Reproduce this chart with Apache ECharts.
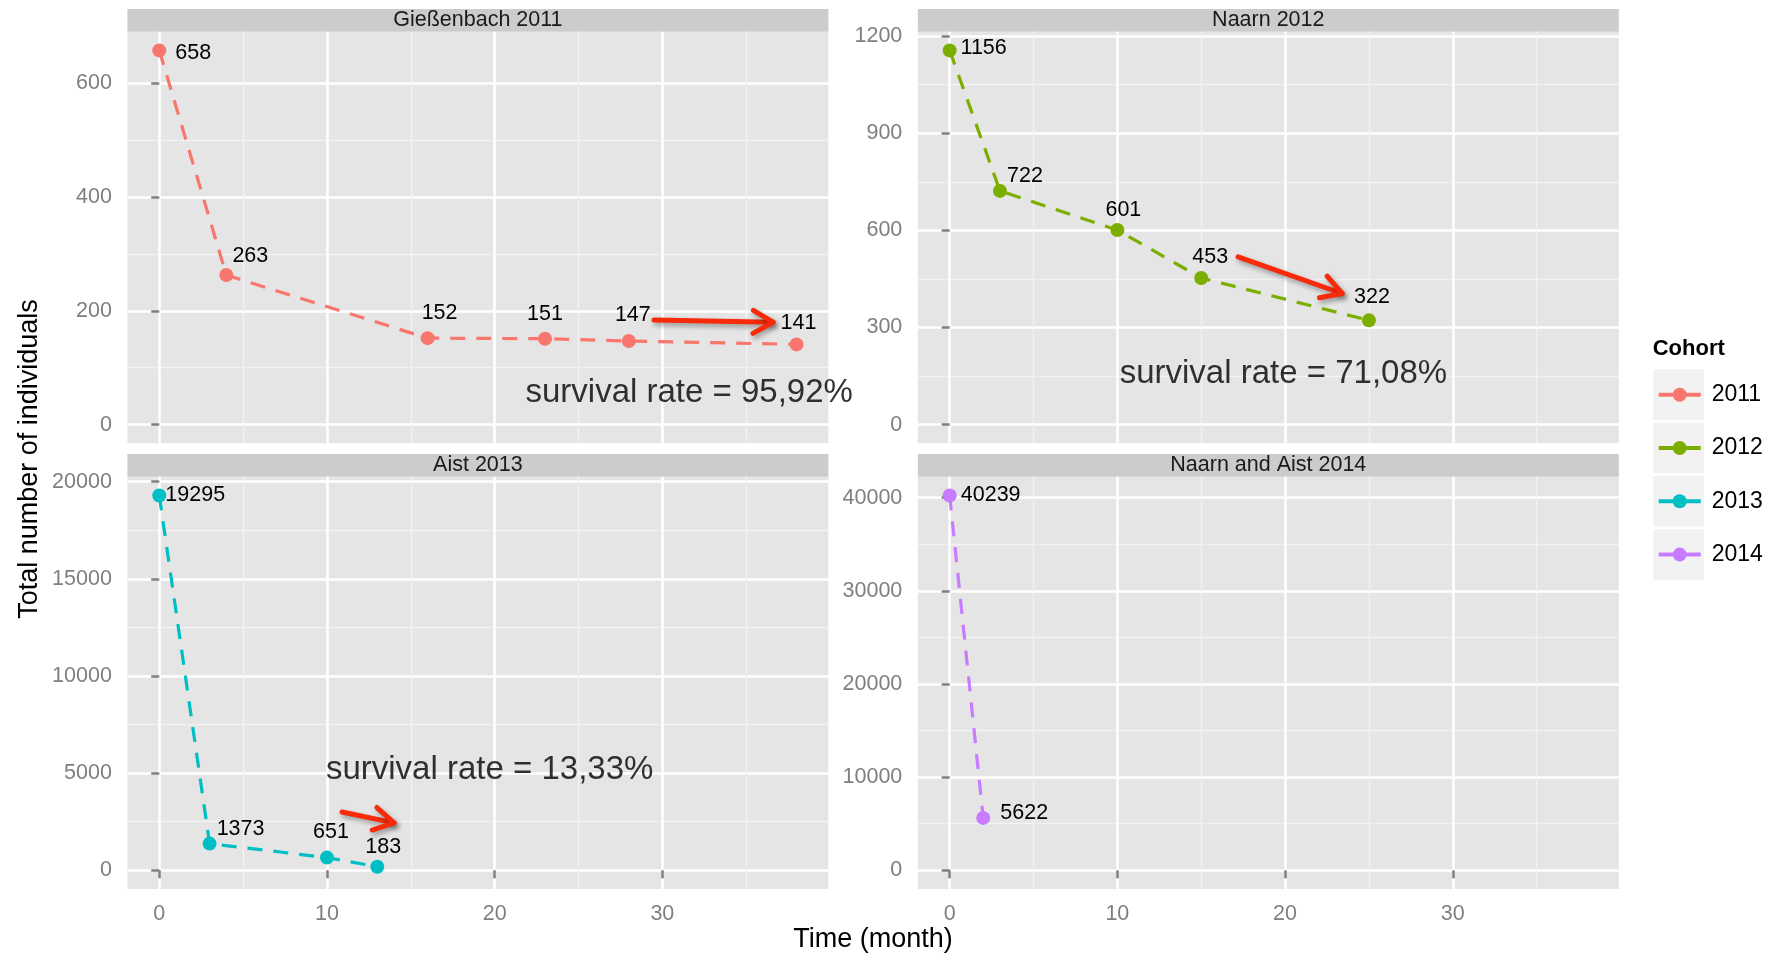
<!DOCTYPE html>
<html>
<head>
<meta charset="utf-8">
<title>Survival of cohorts</title>
<script src="https://cdn.jsdelivr.net/npm/echarts@6/dist/echarts.min.js"></script>
<style>
  html, body { margin: 0; padding: 0; background: #ffffff; }
  #chart { width: 1778px; height: 957px; }
</style>
</head>
<body>
<div id="chart"></div>
<script>
// ---- data ---------------------------------------------------------------
const panelTitles = ['Gießenbach 2011', 'Naarn 2012', 'Aist 2013', 'Naarn and Aist 2014'];
const cohorts = ['2011', '2012', '2013', '2014'];

const months2011 = [0, 4, 16, 23, 28, 38];
const counts2011 = [658, 263, 152, 151, 147, 141];
const months2012 = [0, 3, 10, 15, 25];
const counts2012 = [1156, 722, 601, 453, 322];
const months2013 = [0, 3, 10, 13];
const counts2013 = [19295, 1373, 651, 183];
const months2014 = [0, 2];
const counts2014 = [40239, 5622];

const xTicks = [0, 10, 20, 30];
const yTicks2011 = [0, 200, 400, 600];
const yTicks2012 = [0, 300, 600, 900, 1200];
const yTicks2013 = [0, 5000, 10000, 15000, 20000];
const yTicks2014 = [0, 10000, 20000, 30000, 40000];

// annotation texts, anchored in data units of their panel
const survivalTexts = ['survival rate = 95,92%', 'survival rate = 71,08%', 'survival rate = 13,33%'];
const survivalAt = [[31.6, 56], [19.9, 156], [19.7, 5150]];
// arrows: [xStart, yStart, xEnd, yEnd]
const arrows = [[29.5, 184, 36.6, 180], [17.2, 518, 23.4, 405], [10.9, 3000, 14.0, 2440]];

// ---- styling / layout -----------------------------------------------------
const FONT = '"Liberation Sans", Arial, Helvetica, sans-serif';
const COLORS = ['#F8766D', '#7CAE00', '#00BFC4', '#C77CFF'];
const PANEL_LEFT = [127.4, 917.8];
const PANEL_TOP = [31.7, 476.7];
const PANEL_W = 701;
const PANEL_H = [411.6, 412.3];
const STRIP_H = 22.7;

// label offsets (px) of each value label relative to its point
const labelOffsets = [
  [[34, 3], [24, -19], [12, -25], [0, -25], [4, -26], [2, -21]],
  [[34, -2], [25, -15], [6, -20], [9, -21], [3, -23]],
  [[36, 0], [31, -15], [4, -26], [6, -20]],
  [[41, 0], [41, -5]]
];

const monthsList = [months2011, months2012, months2013, months2014];
const countsList = [counts2011, counts2012, counts2013, counts2014];
const yTicksList = [yTicks2011, yTicks2012, yTicks2013, yTicks2014];

// ggplot-like 5% expansion of a range that starts at zero
function expanded(maxVal) {
  const pad = 0.05 * maxVal;
  return [-pad, maxVal + pad];
}
const xMaxData = Math.max(...monthsList.map(m => Math.max(...m)));
const xRange = expanded(xMaxData);

const grids = [], xAxes = [], yAxes = [], series = [], graphics = [];

for (let i = 0; i < 4; i++) {
  const col = i % 2, row = Math.floor(i / 2);
  const bottom = row === 1;
  grids.push({
    left: PANEL_LEFT[col], top: PANEL_TOP[row], width: PANEL_W, height: PANEL_H[row],
    show: true, backgroundColor: '#E5E5E5', borderWidth: 0, containLabel: false,
    outerBoundsMode: 'none'
  });

  xAxes.push({
    type: 'value', gridIndex: i, min: xRange[0], max: xRange[1], splitNumber: 4,
    axisLine: { show: false },
    axisTick: { show: bottom, customValues: xTicks, length: 8, lineStyle: { color: '#7F7F7F', width: 2.5 } },
    axisLabel: { show: bottom, customValues: xTicks, margin: 14, color: '#7F7F7F', fontSize: 21.5,
                 fontFamily: FONT, formatter: v => String(v) },
    splitLine: { show: true, lineStyle: { color: '#FFFFFF', width: 2.5 } },
    minorTick: { show: false, splitNumber: 2 },
    minorSplitLine: { show: true, lineStyle: { color: '#F2F2F2', width: 1.3 } }
  });

  const yr = expanded(Math.max(...countsList[i]));
  yAxes.push({
    type: 'value', gridIndex: i, min: yr[0], max: yr[1], splitNumber: 4,
    axisLine: { show: false },
    axisTick: { show: true, customValues: yTicksList[i], length: 8, lineStyle: { color: '#7F7F7F', width: 2.5 } },
    axisLabel: { show: true, customValues: yTicksList[i], margin: 15.5, color: '#7F7F7F', fontSize: 21.5,
                 fontFamily: FONT, formatter: v => String(v) },
    splitLine: { show: true, lineStyle: { color: '#FFFFFF', width: 2.5 } },
    minorTick: { show: false, splitNumber: 2 },
    minorSplitLine: { show: true, lineStyle: { color: '#F2F2F2', width: 1.3 } }
  });

  series.push({
    name: cohorts[i], type: 'line', xAxisIndex: i, yAxisIndex: i,
    data: monthsList[i].map((m, k) => ({
      value: [m, countsList[i][k]],
      label: { offset: labelOffsets[i][k] }
    })),
    symbol: 'circle', symbolSize: 14, showAllSymbol: true,
    lineStyle: { color: COLORS[i], width: 3.2, type: [15, 11], cap: 'butt' },
    itemStyle: { color: COLORS[i] },
    label: {
      show: true, position: 'inside', align: 'center', verticalAlign: 'middle',
      color: '#000000', fontSize: 21.5, fontFamily: FONT,
      formatter: p => String(p.value[1])
    },
    emphasis: { disabled: true }, z: 3
  });

  // panel strip
  graphics.push({
    type: 'group', silent: true,
    children: [
      { type: 'rect', shape: { x: PANEL_LEFT[col], y: PANEL_TOP[row] - STRIP_H, width: PANEL_W, height: STRIP_H },
        style: { fill: '#CCCCCC' } },
      { type: 'text', x: PANEL_LEFT[col] + PANEL_W / 2, y: PANEL_TOP[row] - STRIP_H / 2,
        style: { text: panelTitles[i], fill: '#1A1A1A', fontSize: 21.5, fontFamily: FONT,
                 textAlign: 'center', textVerticalAlign: 'middle' } }
    ]
  });
}

// survival-rate annotations
survivalTexts.forEach((t, j) => {
  series.push({
    name: 'note' + j, type: 'scatter', xAxisIndex: j, yAxisIndex: j,
    data: [survivalAt[j]], symbolSize: 1, itemStyle: { color: 'rgba(0,0,0,0)' },
    label: { show: true, position: 'inside', formatter: t, color: '#000000', fontSize: 33, fontFamily: FONT },
    silent: true, emphasis: { disabled: true }, z: 4
  });
});

// red arrows
arrows.forEach((a, j) => {
  series.push({
    name: 'arrow' + j, type: 'custom', xAxisIndex: j, yAxisIndex: j,
    data: [a], silent: true, clip: false, z: 5,
    renderItem(params, api) {
      const p0 = api.coord([api.value(0), api.value(1)]);
      const p1 = api.coord([api.value(2), api.value(3)]);
      const ang = Math.atan2(p1[1] - p0[1], p1[0] - p0[0]);
      const L = 23, phi = Math.PI / 6;
      const h1 = [p1[0] - L * Math.cos(ang - phi), p1[1] - L * Math.sin(ang - phi)];
      const h2 = [p1[0] - L * Math.cos(ang + phi), p1[1] - L * Math.sin(ang + phi)];
      const style = {
        stroke: '#F72A0A', fill: null, lineWidth: 5, lineJoin: 'round', lineCap: 'round',
        shadowBlur: 5, shadowColor: 'rgba(0,0,0,0.35)', shadowOffsetX: 2, shadowOffsetY: 3
      };
      return {
        type: 'group',
        children: [
          { type: 'polyline', shape: { points: [p0, p1] }, style },
          { type: 'polyline', shape: { points: [h1, p1, h2] }, style }
        ]
      };
    }
  });
});

// axis titles
graphics.push({
  type: 'text', x: (PANEL_LEFT[0] + PANEL_LEFT[1] + PANEL_W) / 2, y: 940, silent: true,
  style: { text: 'Time (month)', fill: '#000000', fontSize: 27, fontFamily: FONT,
           textAlign: 'center', textVerticalAlign: 'middle' }
});
graphics.push({
  type: 'text', x: 30, y: 459, rotation: Math.PI / 2, silent: true,
  style: { text: 'Total number of individuals', fill: '#000000', fontSize: 27, fontFamily: FONT,
           textAlign: 'center', textVerticalAlign: 'middle' }
});

// legend title and key backgrounds
graphics.push({
  type: 'text', x: 1652.7, y: 349, silent: true,
  style: { text: 'Cohort', fill: '#000000', fontSize: 22, fontWeight: 'bold', fontFamily: FONT,
           textAlign: 'left', textVerticalAlign: 'middle' }
});
cohorts.forEach((c, k) => {
  graphics.push({
    type: 'rect', silent: true, z: -1,
    shape: { x: 1653.3, y: 369.3 + k * 53.3, width: 50.7, height: 50.7 },
    style: { fill: '#F2F2F2' }
  });
});

const chart = echarts.init(document.getElementById('chart'), null, { renderer: 'canvas' });
chart.setOption({
  animation: false,
  backgroundColor: '#FFFFFF',
  grid: grids,
  xAxis: xAxes,
  yAxis: yAxes,
  legend: {
    data: cohorts, orient: 'vertical', left: 1656.7, top: 380.7, padding: 0,
    itemWidth: 42, itemHeight: 17.5, itemGap: 25.3, selectedMode: false,
    lineStyle: { type: 'solid', width: 4 },
    textStyle: { color: '#000000', fontSize: 23, lineHeight: 28, fontFamily: FONT, padding: [0, 0, 0, 6] }
  },
  graphic: graphics,
  series: series
});
</script>
</body>
</html>
